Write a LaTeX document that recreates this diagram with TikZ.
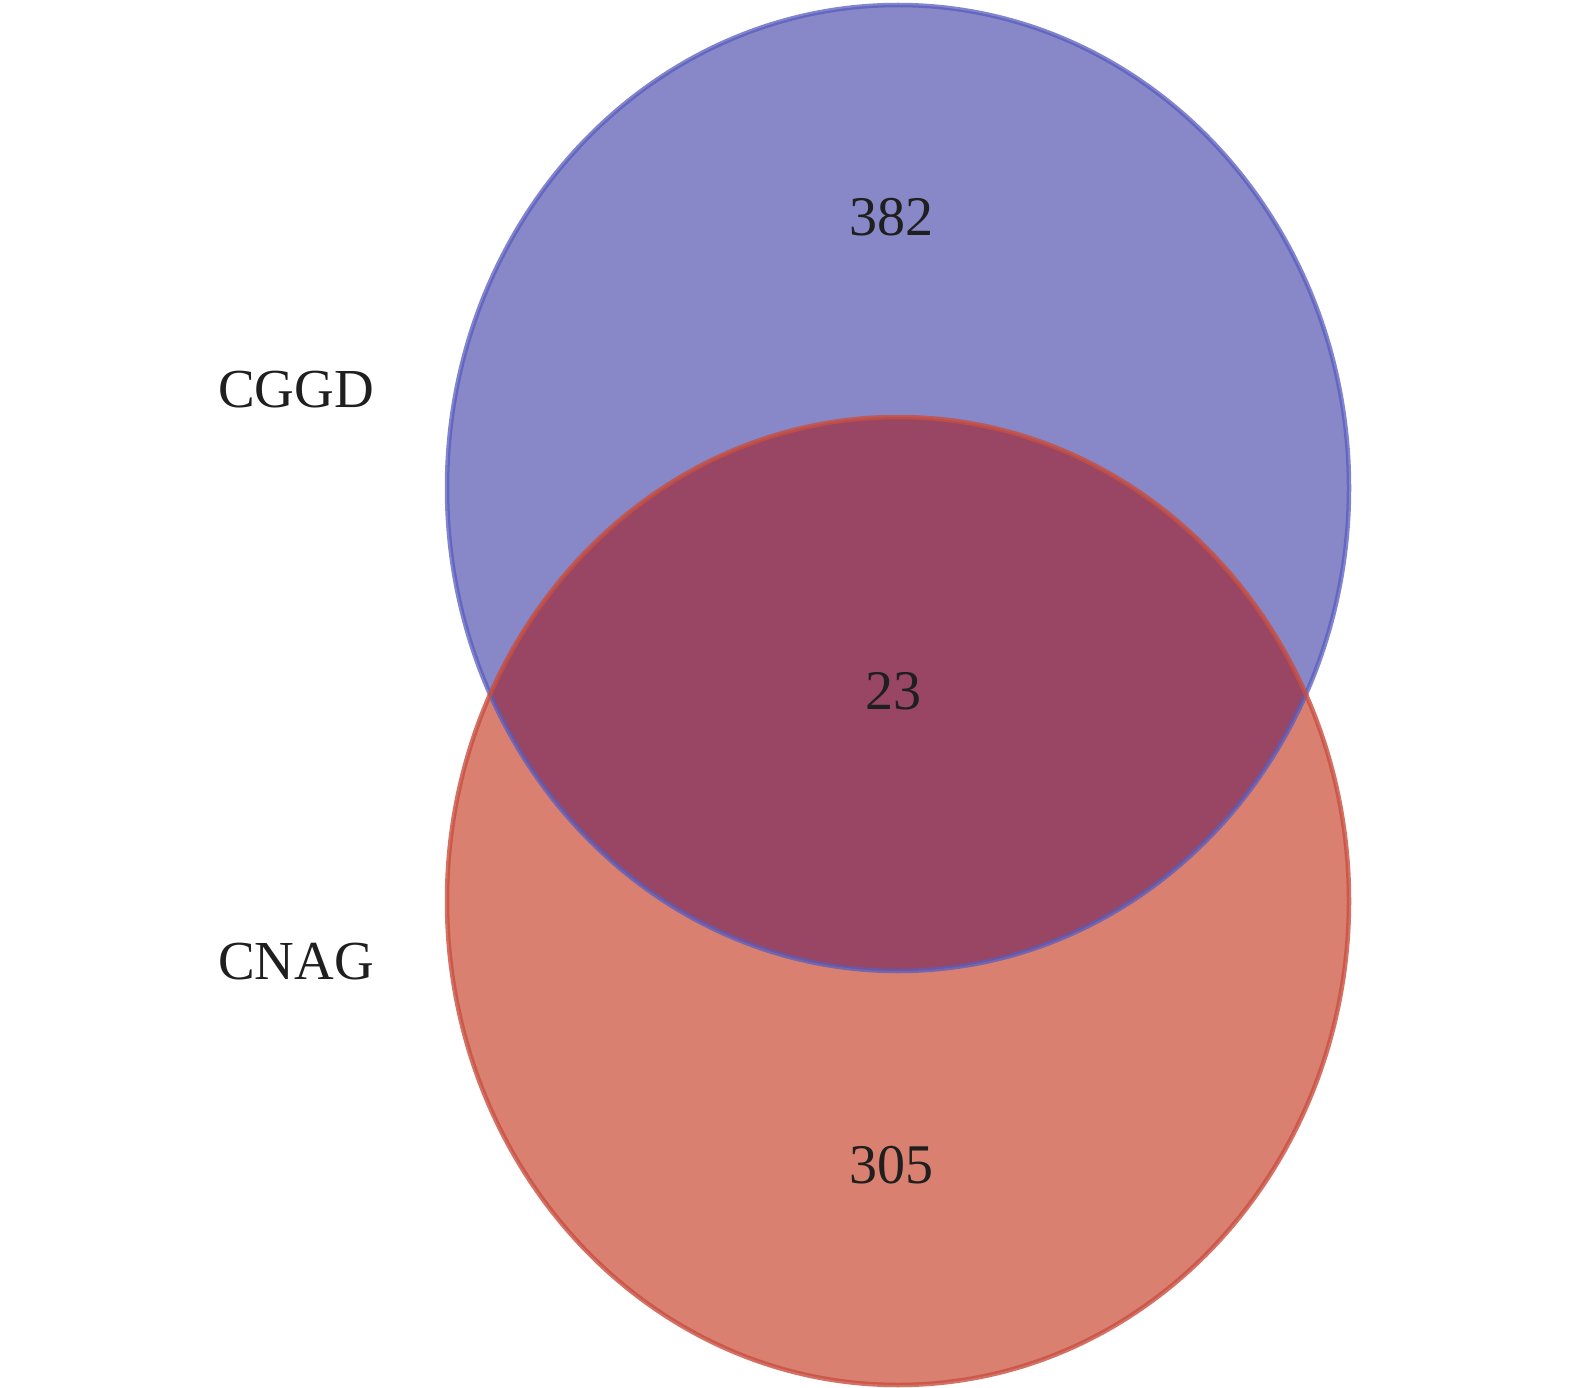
\documentclass[tikz,border=0pt]{standalone}
\usepackage{fontspec}
\setmainfont{Liberation Serif}
\usepackage{tikz}
\definecolor{cggdfill}{RGB}{136,136,200}
\definecolor{cggdline}{RGB}{88,92,190}
\definecolor{cnagfill}{RGB}{218,128,112}
\definecolor{cnagline}{RGB}{200,78,64}
\definecolor{bothfill}{RGB}{153,70,100}
\tikzset{
  setlabel/.style={font=\fontsize{55}{66}\selectfont, text=black!88},
  count/.style={font=\fontsize{56}{66}\selectfont, text=black!88}
}

\begin{document}
\begin{tikzpicture}[x=1pt,y=-1pt,line width=4.5pt] % two-set Venn
         \useasboundingbox (0,0) rectangle (1575,1388);
         \fill[cggdfill] (898,488) ellipse [x radius=451pt, y radius=483pt];
         \fill[cnagfill] (898,901) ellipse [x radius=451pt, y radius=484pt];
         \begin{scope}
            \clip (898,488) ellipse [x radius=451pt, y radius=483pt];
            \fill[bothfill] (898,901) ellipse [x radius=451pt, y radius=484pt];
         \end{scope}
         \draw[cggdline,draw opacity=0.75] (898,488) ellipse [x radius=451pt, y radius=483pt];
         \draw[cnagline,draw opacity=0.8] (898,901) ellipse [x radius=451pt, y radius=484pt];
         \node[setlabel] (cggd) at (296,390) {CGGD};
         \node[setlabel] (cnag) at (296,962) {CNAG};
         \node[count] (onlycggd) at (891,217) {382};
         \node[count] (shared) at (893,691) {23};
         \node[count] (onlycnag) at (891,1165) {305};
      \end{tikzpicture}
\end{document}
